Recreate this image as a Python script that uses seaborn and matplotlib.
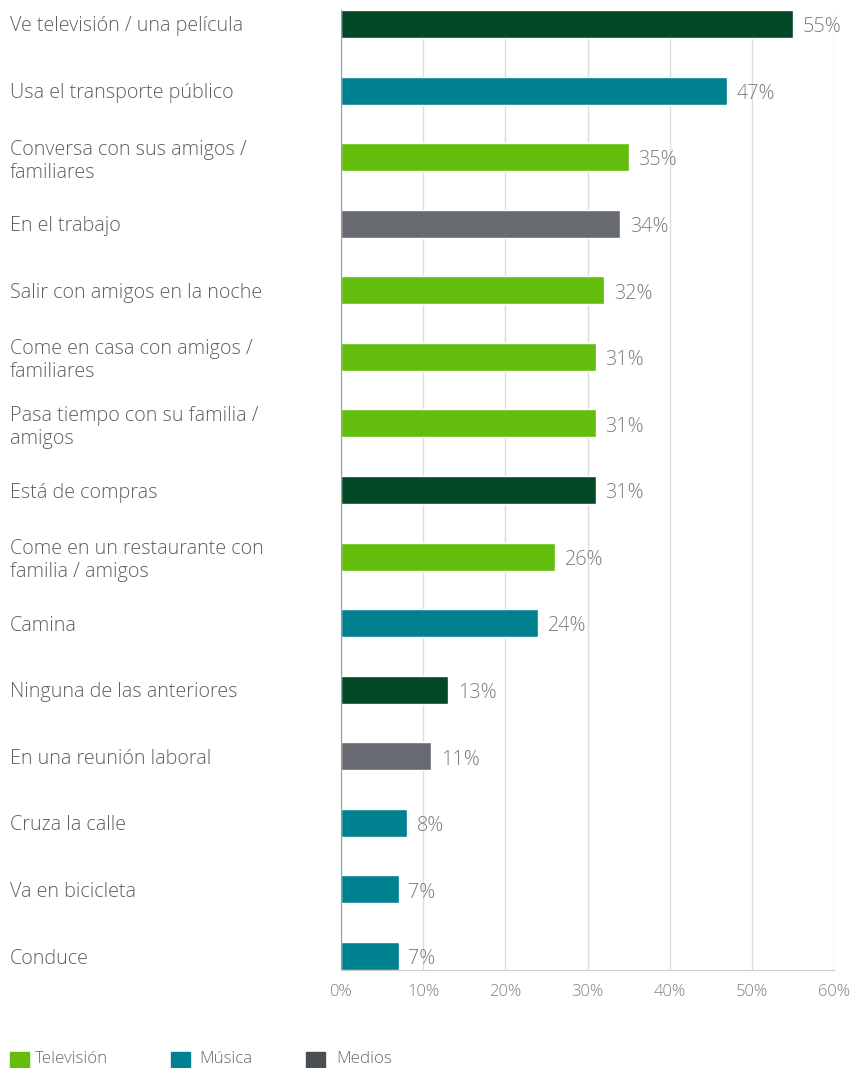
import matplotlib
matplotlib.use("Agg")
import matplotlib.pyplot as plt
import seaborn as sns
import pandas as pd
from matplotlib.patches import Rectangle

# %% data

categories = [
    "Ve televisión / una película",
    "Usa el transporte público",
    "Conversa con sus amigos /\nfamiliares",
    "En el trabajo",
    "Salir con amigos en la noche",
    "Come en casa con amigos /\nfamiliares",
    "Pasa tiempo con su familia /\namigos",
    "Está de compras",
    "Come en un restaurante con\nfamilia / amigos",
    "Camina",
    "Ninguna de las anteriores",
    "En una reunión laboral",
    "Cruza la calle",
    "Va en bicicleta",
    "Conduce",
]
values = [55, 47, 35, 34, 32, 31, 31, 31, 26, 24, 13, 11, 8, 7, 7]
groups = ["otro", "musica", "tv", "medios", "tv", "tv", "tv", "otro",
          "tv", "musica", "otro", "medios", "musica", "musica", "musica"]
x_ticks = [0, 10, 20, 30, 40, 50, 60]

legend_labels = ["Televisión", "Música", "Medios"]

# colours
bar_colors = {"tv": "#62bd0c", "musica": "#00818f",
              "medios": "#686a72", "otro": "#024826"}
legend_colors = ["#62bd0c", "#00818f", "#4a4f55"]

df = pd.DataFrame({"category": categories, "value": values, "group": groups})

# %% plot

sns.set_style("white")
plt.rcParams["font.family"] = ["Open Sans", "DejaVu Sans"]
plt.rcParams["font.weight"] = "light"

fig = plt.figure(figsize=(8.61, 10.68), dpi=100)
W, H = 861, 1068
# axes: 0% at x=341, 60% at x=834, top y=10, bottom y=970
ax = fig.add_axes([341 / W, 1 - 970 / H, (834 - 341) / W, 960 / H])

sns.barplot(
    data=df,
    x="value",
    y="category",
    hue="group",
    palette=bar_colors,
    saturation=1,
    orient="h",
    width=0.42,
    dodge=False,
    legend=False,
    ax=ax,
)

ax.set_xlim(0, 60)
ax.set_ylim(14.21, -0.21)
ax.set_xticks(x_ticks)
ax.set_xticklabels([f"{t}%" for t in x_ticks], color="#808080", fontsize=12)
ax.set_xlabel("")
ax.set_ylabel("")

# category labels left aligned at the figure edge
ax.set_yticks(range(len(categories)))
ax.set_yticklabels(categories, ha="left", color="#5e5e5e", fontsize=14.2,
                   linespacing=1.2)
ax.tick_params(axis="y", length=0, pad=(341 - 10) * 0.72)
ax.tick_params(axis="x", length=0, pad=10)

# vertical guides
ax.set_axisbelow(True)
ax.xaxis.grid(True, color="#dddddd", linewidth=1)
ax.yaxis.grid(False)
for side in ["top", "right"]:
    ax.spines[side].set_visible(False)
ax.spines["left"].set_color("#9a9a9a")
ax.spines["bottom"].set_color("#cccccc")

# value labels
for i, v in enumerate(values):
    ax.text(v + 1.2, i + 0.05, f"{v}%", va="center", ha="left",
            color="#7c7c7c", fontsize=14.2, clip_on=False)

# legend drawn as squares + text
leg_x = [10, 171, 306]
txt_x = [35, 199, 336]
for lab, col, sx, tx in zip(legend_labels, legend_colors, leg_x, txt_x):
    fig.add_artist(Rectangle((sx / W, 1 - 1067 / H), 19 / W, 15 / H,
                             transform=fig.transFigure, color=col))
    fig.text(tx / W, 1 - 1059 / H, lab, va="center", ha="left",
             color="#6a6a6a", fontsize=12.2)

fig.savefig("out.png", dpi=100)
